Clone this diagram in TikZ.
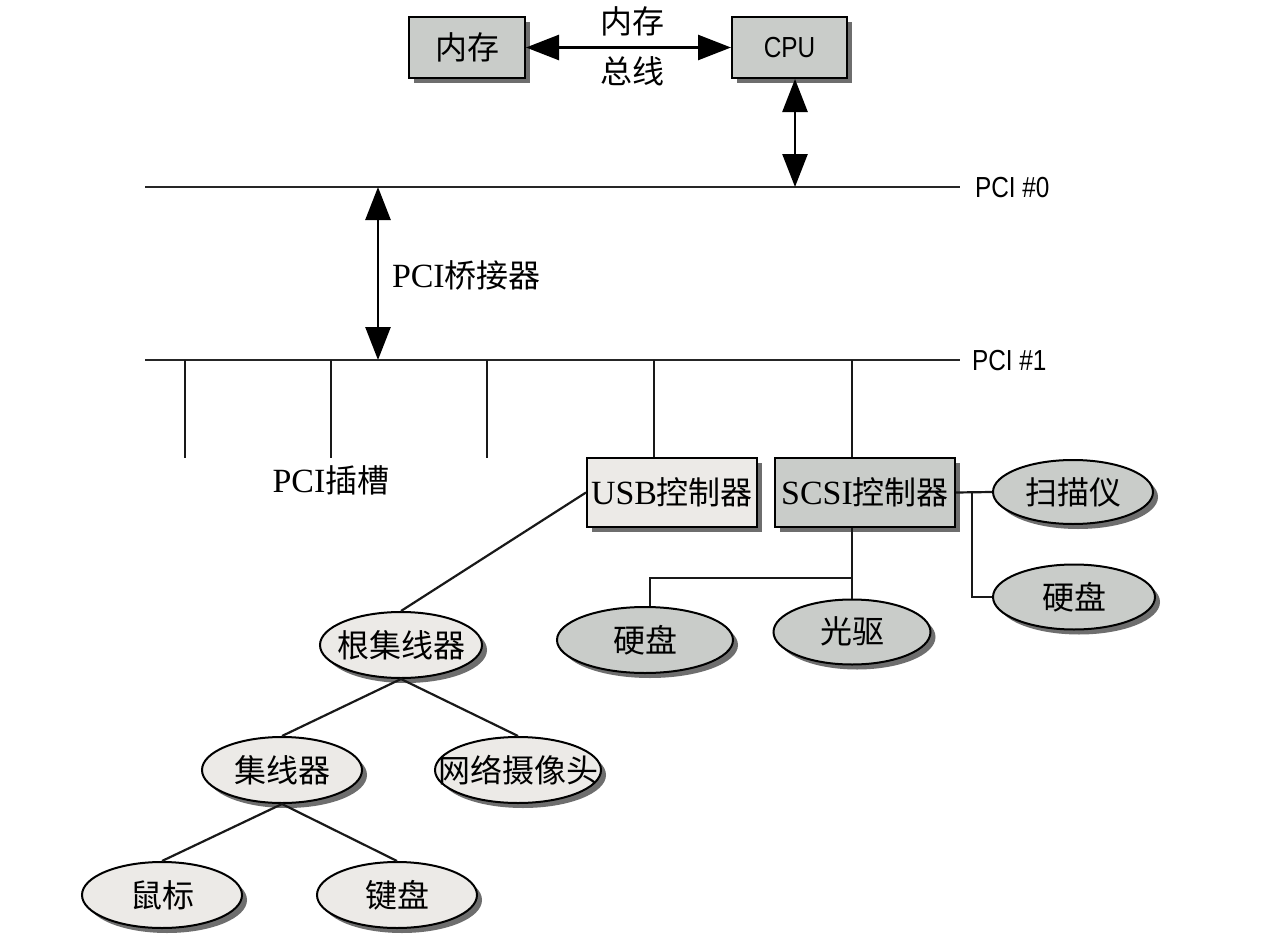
\documentclass[tikz,border=0pt]{standalone}
\usepackage{fontspec}
\setmainfont{Liberation Serif}[Scale=1.06]
\newfontfamily\cjk{Noto Sans CJK SC}
\newfontfamily\cond[FakeStretch=0.84]{Liberation Sans}
\usetikzlibrary{arrows.meta,shapes.geometric,shadows}
\definecolor{boxgray}{HTML}{C9CCC9}
\definecolor{lightfill}{HTML}{ECEAE7}
\definecolor{shadowgray}{HTML}{6E6E6E}
\begin{document}
\begin{tikzpicture}[x=1pt,y=-1pt,
  line width=2pt,
  font=\fontsize{32}{36}\selectfont,
  bus/.style={line width=2.2pt, draw=black!85},
  conn/.style={line width=2.2pt, draw=black!90},
  biarrow/.style={line width=2.6pt,{Triangle[length=33pt,width=25pt]}-{Triangle[length=33pt,width=25pt]}},
  shad/.style={general shadow={fill=shadowgray, shadow xshift=5pt, shadow yshift=-5pt}},
  darkbox/.style={draw, line width=2pt, fill=boxgray, shad, inner sep=0pt},
  lightbox/.style={draw, line width=2pt, fill=lightfill, shad, inner sep=0pt},
  darkell/.style={ellipse, draw, line width=2pt, fill=boxgray, shad, inner ysep=0pt, inner xsep=-25pt},
  lightell/.style={ellipse, draw, line width=2pt, fill=lightfill, shad, inner ysep=0pt, inner xsep=-25pt},
  sanslab/.style={font=\fontsize{29}{32}\selectfont\cond, inner sep=0pt}
]
\useasboundingbox[fill=white] (0,0) rectangle (1286,942);

% top boxes
\node[darkbox, minimum width=116pt, minimum height=61pt] (mem) at (467,47.5) {\cjk 内存};
\node[darkbox, minimum width=115pt, minimum height=61pt] (cpu) at (789.5,47.5) {\fontsize{29}{32}\selectfont\cond CPU};
\draw[biarrow] (mem.east) -- (cpu.west);
\node (bl1) at (632,21) {\cjk 内存};
\node (bl2) at (632,71) {\cjk 总线};

% PCI #0
\coordinate (p0l) at (145,187);
\coordinate (p0r) at (960,187);
\draw[bus] (p0l) -- (p0r);
\node[sanslab, anchor=west] (p0lab) at (974,188) {PCI \#0};
\coordinate (cpuport) at (795,187);
\draw[biarrow] ([xshift=5.5pt]cpu.south) -- (cpuport);

% bridge
\coordinate (b0) at (378,187);
\coordinate (b1) at (378,360);
\draw[biarrow] (b0) -- (b1);
\node[anchor=west, inner sep=0pt] (brlab) at (391,275) {PCI{\cjk 桥接器}};

% PCI #1
\coordinate (p1l) at (145,360);
\coordinate (p1r) at (960,360);
\draw[bus] (p1l) -- (p1r);
\node[sanslab, anchor=west] (p1lab) at (971,361) {PCI \#1};

% slots
\coordinate (s1a) at (185,360); \coordinate (s1b) at (185,458);
\coordinate (s2a) at (331,360); \coordinate (s2b) at (331,458);
\coordinate (s3a) at (487,360); \coordinate (s3b) at (487,458);
\draw[conn] (s1a) -- (s1b);
\draw[conn] (s2a) -- (s2b);
\draw[conn] (s3a) -- (s3b);
\node (slotlab) at (331,480) {PCI{\cjk 插槽}};

% controllers
\node[lightbox, minimum width=170pt, minimum height=69pt] (usb) at (672,492.5) {USB{\cjk 控制器}};
\node[darkbox, minimum width=180pt, minimum height=69pt] (scsi) at (865,492.5) {SCSI{\cjk 控制器}};
\coordinate (u1) at (654,360);
\coordinate (c1) at (852,360);
\draw[conn] (u1) -- (u1 |- usb.north);
\draw[conn] (c1) -- (c1 |- scsi.north);

% SCSI devices
\node[darkell, minimum width=160pt, minimum height=64pt] (scan) at (1073,492) {\cjk 扫描仪};
\node[darkell, minimum width=162pt, minimum height=65pt] (hd2) at (1074,597) {\cjk 硬盘};
\node[darkell, minimum width=176pt, minimum height=66pt] (hd1) at (645,640) {\cjk 硬盘};
\node[darkell, minimum width=157pt, minimum height=65pt] (cd) at (852,632) {\raisebox{3pt}{\cjk 光驱}};

\draw[conn] (scsi.east) -- (scan.west);
\coordinate (sj) at (972,492);
\draw[conn] (sj) |- (hd2.west);
\draw[conn] (c1 |- scsi.south) -- (cd.north);
\coordinate (sd) at (852,578);
\coordinate (hdj) at (650,578);
\draw[conn] (sd) -- (hdj) -- (hdj |- hd1.north);

% USB tree
\node[lightell, minimum width=162pt, minimum height=66pt] (root) at (401,645) {\cjk 根集线器};
\node[lightell, minimum width=160pt, minimum height=66pt] (hub) at (282,770) {\cjk 集线器};
\node[lightell, minimum width=166pt, minimum height=66pt] (cam) at (518,770) {\cjk 网络摄像头};
\node[lightell, minimum width=160pt, minimum height=66pt] (mouse) at (162,895) {\cjk 鼠标};
\node[lightell, minimum width=160pt, minimum height=66pt] (kb) at (397,895) {\cjk 键盘};

\draw[conn] (usb.west) -- (root.north);
\draw[conn] (root.south) -- (hub.north);
\draw[conn] (root.south) -- (cam.north);
\draw[conn] (hub.south) -- (mouse.north);
\draw[conn] (hub.south) -- (kb.north);
\end{tikzpicture}
\end{document}
